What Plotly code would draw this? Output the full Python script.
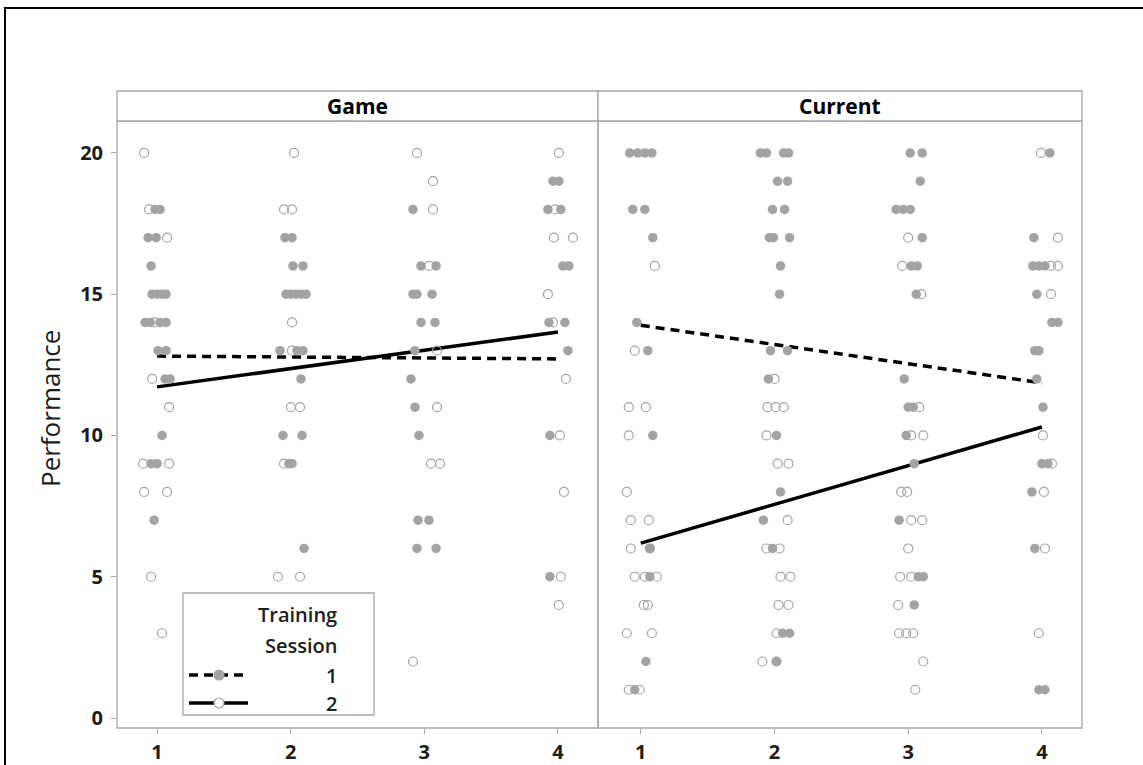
import plotly.graph_objects as go

# ---- data -------------------------------------------------------------
panels = ["Game", "Current"]
time_ticks = [1, 2, 3, 4]
perf_ticks = [0, 5, 10, 15, 20]
sessions = ["1", "2"]

# jittered time positions and performance scores
game_s1_x = [0.985, 1.022, 0.933, 0.993, 0.955, 0.963, 1.0, 1.037, 1.067, 0.91, 0.948, 1.022, 1.067,
             1.007, 1.067, 1.06, 1.097, 1.037, 0.955, 1.0, 0.978,
             1.957, 2.01, 2.017, 2.092, 1.965, 2.002, 2.04, 2.077, 2.115, 1.92, 2.047, 2.092, 2.077,
             1.942, 2.085, 1.987, 2.01, 2.1,
             2.915, 2.975, 3.088, 2.915, 2.945, 3.058, 2.975, 3.08, 2.93, 2.9, 2.93, 2.96, 2.953,
             3.035, 2.945, 3.088,
             3.963, 4.007, 3.925, 4.022, 4.037, 4.082, 3.933, 4.052, 4.075, 3.94, 3.94]
game_s1_y = [18, 18, 17, 17, 16, 15, 15, 15, 15, 14, 14, 14, 14, 13, 13, 12, 12, 10, 9, 9, 7,
             17, 17, 16, 16, 15, 15, 15, 15, 15, 13, 13, 13, 12, 10, 10, 9, 9, 6,
             18, 16, 16, 15, 15, 15, 14, 14, 13, 12, 11, 10, 7, 7, 6, 6,
             19, 19, 18, 18, 16, 16, 14, 14, 13, 10, 5]

game_s2_x = [0.903, 0.94, 1.075, 0.978, 0.963, 1.09, 0.895, 1.09, 0.903, 1.075, 0.955, 1.037,
             2.025, 1.95, 2.01, 2.01, 2.01, 2.002, 2.07, 1.95, 1.905, 2.07,
             2.945, 3.065, 3.065, 3.035, 3.095, 3.095, 3.05, 3.118, 2.915,
             4.007, 3.978, 3.97, 4.112, 3.925, 3.963, 4.06, 4.015, 4.045, 4.022, 4.007]
game_s2_y = [20, 18, 17, 14, 12, 11, 9, 9, 8, 8, 5, 3,
             20, 18, 18, 14, 13, 11, 11, 9, 5, 5,
             20, 19, 18, 16, 13, 11, 9, 9, 2,
             20, 18, 17, 17, 15, 14, 12, 10, 8, 5, 4]

current_s1_x = [0.917, 0.977, 1.03, 1.083, 0.94, 1.03, 1.09, 0.97, 1.053, 1.09, 1.068, 1.068, 1.038, 0.955,
                1.895, 1.94, 2.068, 2.105, 2.023, 2.098, 1.985, 2.075, 1.962, 1.992, 2.113, 2.045,
                2.038, 1.97, 2.098, 1.955, 2.015, 2.045, 1.917, 1.985, 2.06, 2.113, 2.015,
                3.015, 3.105, 3.09, 2.91, 2.962, 3.015, 3.105, 3.023, 3.068, 3.06, 2.97, 3.0, 3.038,
                2.985, 3.045, 2.932, 3.075, 3.113, 3.045,
                4.06, 3.94, 3.932, 3.977, 4.023, 3.962, 4.075, 4.12, 3.947, 3.977, 3.962, 4.008,
                4.0, 4.045, 3.925, 3.947, 3.977, 4.023]
current_s1_y = [20, 20, 20, 20, 18, 18, 17, 14, 13, 10, 6, 5, 2, 1,
                20, 20, 20, 20, 19, 19, 18, 18, 17, 17, 17, 16, 15, 13, 13, 12, 10, 8, 7, 6, 3, 3, 2,
                20, 20, 19, 18, 18, 18, 17, 16, 16, 15, 12, 11, 11, 10, 9, 7, 5, 5, 4,
                20, 17, 16, 16, 16, 15, 14, 14, 13, 13, 12, 11, 9, 9, 8, 6, 1, 1]

current_s2_x = [1.105, 0.955, 0.91, 1.038, 0.91, 0.895, 0.925, 1.06, 0.925, 1.068, 0.955, 1.03, 1.12,
                1.023, 1.053, 0.895, 1.083, 0.91, 0.992,
                2.0, 1.947, 2.008, 2.068, 1.94, 2.023, 2.105, 2.098, 1.94, 2.038, 2.045, 2.12, 2.03,
                2.105, 2.015, 1.91, 2.015,
                3.0, 2.955, 3.098, 3.083, 3.023, 3.113, 2.947, 2.992, 3.023, 3.105, 3.0, 2.94, 3.023,
                2.925, 2.932, 2.985, 3.038, 3.113, 3.053,
                3.992, 4.12, 4.068, 4.12, 4.068, 4.008, 4.075, 4.015, 4.023, 3.977]
current_s2_y = [16, 13, 11, 11, 10, 8, 7, 7, 6, 6, 5, 5, 5, 4, 4, 3, 3, 1, 1,
                12, 11, 11, 11, 10, 9, 9, 7, 6, 6, 5, 5, 4, 4, 3, 2, 2,
                17, 16, 15, 11, 10, 10, 8, 8, 7, 7, 6, 5, 5, 4, 3, 3, 3, 2, 1,
                20, 17, 16, 16, 15, 10, 9, 8, 6, 3]

# fitted trend per session, evaluated at the first and last time point
fit_x = [1, 4]
game_fit_s1 = [12.81, 12.71]
game_fit_s2 = [11.72, 13.66]
current_fit_s1 = [13.9, 11.86]
current_fit_s2 = [6.19, 10.3]

# ---- style ------------------------------------------------------------
FONT = "Open Sans"
GREY = "#a3a3a3"
FRAME = "#a6a6a6"
INK = "#1c1c1c"
DASH = "9px,6px"

W, H = 1143, 765
L, R, T, B = 117, 61, 121, 37
pw, ph = W - L - R, H - T - B
split = (598 - L) / pw


def px(x):
    return (x - L) / pw


def py(y):
    return (H - B - y) / ph


fig = go.Figure()

groups = [
    ("x", "y", game_s1_x, game_s1_y, game_s2_x, game_s2_y, game_fit_s1, game_fit_s2),
    ("x2", "y2", current_s1_x, current_s1_y, current_s2_x, current_s2_y, current_fit_s1, current_fit_s2),
]

for xa, ya, s1x, s1y, s2x, s2y, f1, f2 in groups:
    fig.add_trace(go.Scatter(x=fit_x, y=f1, xaxis=xa, yaxis=ya, mode="lines",
                             line=dict(color="black", width=3.5, dash=DASH),
                             showlegend=False, hoverinfo="skip"))
    fig.add_trace(go.Scatter(x=fit_x, y=f2, xaxis=xa, yaxis=ya, mode="lines",
                             line=dict(color="black", width=3.5),
                             showlegend=False, hoverinfo="skip"))
    fig.add_trace(go.Scatter(x=s1x, y=s1y, xaxis=xa, yaxis=ya, mode="markers",
                             marker=dict(symbol="circle", size=9.5, color=GREY,
                                         line=dict(width=0)),
                             name=sessions[0], showlegend=False))
    fig.add_trace(go.Scatter(x=s2x, y=s2y, xaxis=xa, yaxis=ya, mode="markers",
                             marker=dict(symbol="circle-open", size=9, color=GREY,
                                         line=dict(width=1.2, color=GREY)),
                             name=sessions[1], showlegend=False))

tickfont = dict(family=FONT, size=20, color=INK, weight=700)
axis_common = dict(showgrid=False, zeroline=False, showline=False, ticks="outside",
                   ticklen=5, tickwidth=1, tickcolor=FRAME, tickfont=tickfont,
                   automargin=False)

fig.update_layout(
    width=W, height=H,
    margin=dict(l=L, r=R, t=T, b=B, pad=0, autoexpand=False),
    paper_bgcolor="white", plot_bgcolor="white",
    showlegend=False,
    xaxis=dict(domain=[0, split], range=[0.7, 4.3], tickvals=time_ticks,
               ticklabelstandoff=1, **axis_common),
    xaxis2=dict(domain=[split, 1], range=[0.68, 4.3], tickvals=time_ticks, anchor="y2",
                ticklabelstandoff=1, **axis_common),
    yaxis=dict(domain=[0, 1], range=[-0.354, 21.13], tickvals=perf_ticks,
               ticklabelstandoff=4, **axis_common),
    yaxis2=dict(domain=[0, 1], range=[-0.354, 21.13], anchor="x2", matches="y",
                showticklabels=False, showgrid=False, zeroline=False, ticks="",
                automargin=False),
)

shapes = []
annotations = []
strip_h = 30 / ph
for i, (xa, name) in enumerate(zip(["x", "x2"], panels)):
    # panel frame
    shapes.append(dict(type="rect", xref=f"{xa} domain", yref="y domain",
                       x0=0, x1=1, y0=0, y1=1, line=dict(color=FRAME, width=1.3)))
    # strip header
    shapes.append(dict(type="rect", xref=f"{xa} domain", yref="y domain",
                       x0=0, x1=1, y0=1, y1=1 + strip_h, line=dict(color=FRAME, width=1.3),
                       fillcolor="white"))
    annotations.append(dict(text=name, xref=f"{xa} domain", yref="y domain",
                            x=0.5, y=1 + strip_h / 2, showarrow=False,
                            font=dict(family=FONT, size=21, color="black", weight=700),
                            xanchor="center", yanchor="middle"))

# outer border of the graphic
shapes.append(dict(type="rect", xref="paper", yref="paper",
                   x0=px(5), x1=px(W + 40), y0=py(H + 40), y1=py(8),
                   line=dict(color="black", width=2)))

# y axis title
annotations.append(dict(text="Performance", xref="paper", yref="paper",
                        x=px(50), y=py(409), textangle=-90, showarrow=False,
                        font=dict(family=FONT, size=26, color=INK),
                        xanchor="center", yanchor="middle"))

# legend box
shapes.append(dict(type="rect", xref="paper", yref="paper",
                   x0=px(183), x1=px(374), y0=py(715), y1=py(593),
                   line=dict(color=FRAME, width=1.3), fillcolor="white"))
legfont = dict(family=FONT, size=20, color=INK, weight=600)
annotations.append(dict(text="Training", xref="paper", yref="paper", x=px(339), y=py(614),
                        showarrow=False, xanchor="right", yanchor="middle", font=legfont))
annotations.append(dict(text="Session", xref="paper", yref="paper", x=px(339), y=py(645),
                        showarrow=False, xanchor="right", yanchor="middle", font=legfont))
for lab, yy, dash, filled in [(sessions[0], 675, DASH, True), (sessions[1], 703, "solid", False)]:
    shapes.append(dict(type="line", xref="paper", yref="paper",
                       x0=px(189), x1=px(248), y0=py(yy), y1=py(yy),
                       line=dict(color="black", width=3.5, dash=dash)))
    shapes.append(dict(type="circle", xref="paper", yref="paper",
                       xsizemode="pixel", ysizemode="pixel",
                       xanchor=px(219), yanchor=py(yy), x0=-5, x1=5, y0=-5, y1=5,
                       fillcolor=GREY if filled else "white",
                       line=dict(color=GREY, width=1.2)))
    annotations.append(dict(text=lab, xref="paper", yref="paper", x=px(339), y=py(yy),
                            showarrow=False, xanchor="right", yanchor="middle", font=legfont))

fig.update_layout(shapes=shapes, annotations=annotations)

fig.write_html("out.html")
